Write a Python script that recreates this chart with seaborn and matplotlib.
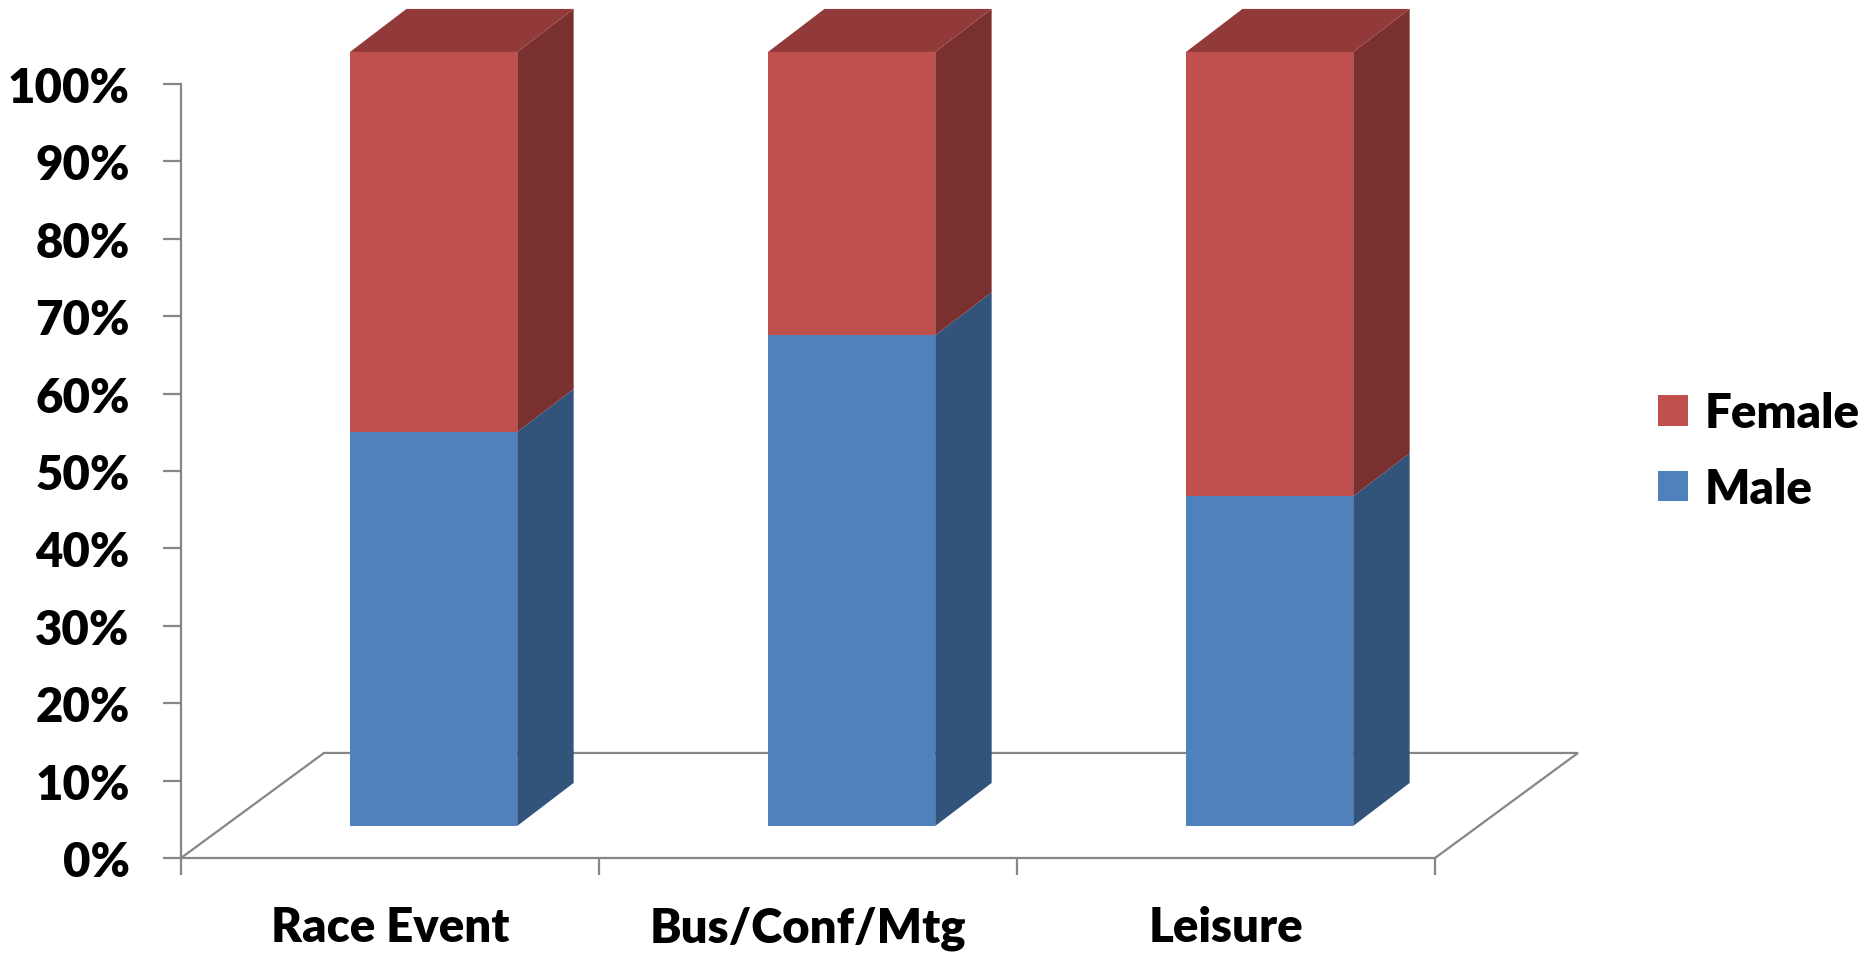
import numpy as np
import pandas as pd
import matplotlib
matplotlib.use("Agg")
import matplotlib.pyplot as plt
import seaborn as sns
from matplotlib.patches import Polygon, Patch

# ---- data -------------------------------------------------------------
categories = ["Race Event", "Bus/Conf/Mtg", "Leisure"]
male = [50.9, 63.4, 42.6]
female = [49.1, 36.6, 57.4]
series_names = ["Female", "Male"]
ytick_values = list(range(0, 101, 10))
ytick_labels = [f"{v}%" for v in ytick_values]

# ---- style ------------------------------------------------------------
BLUE, BLUE_SIDE = "#4F81BD", "#32537A"
RED, RED_SIDE, RED_TOP = "#C0504D", "#7B3030", "#923A3A"
LINE = "#868686"
FS = 34
WEIGHT = 800

# pseudo-3D projection (data units): floor depth vector, where the bar
# fronts sit along that depth, and the depth of each bar block
FLOOR_DX, FLOOR_DY = 0.342, 13.57
FRONT = 0.305
BAR_DX, BAR_DY = 0.135, 5.56

sns.set_theme(style="white")
plt.rcParams["font.family"] = ["Lato", "DejaVu Sans"]
plt.rcParams["font.weight"] = WEIGHT
plt.rcParams["text.color"] = "black"
plt.rcParams["xtick.labelcolor"] = "black"
plt.rcParams["ytick.labelcolor"] = "black"

fig = plt.figure(figsize=(18.68, 9.54), dpi=100)
ax = fig.add_axes([0.0969, 0.09958, 0.67131, 0.81132])

idx = np.arange(len(categories))
front_dx, front_dy = FRONT * FLOOR_DX, FRONT * FLOOR_DY
df = pd.DataFrame({"pos": idx + front_dx, "Male": male, "Female": female})
df["female_base"] = front_dy + df["Male"]

# front faces of the stacked bars
sns.barplot(data=df, x="pos", y="Male", native_scale=True, width=0.4,
            color=BLUE, saturation=1, bottom=front_dy, errorbar=None,
            linewidth=0, ax=ax, zorder=3)
sns.barplot(data=df, x="pos", y="Female", native_scale=True, width=0.4,
            color=RED, saturation=1, bottom=df["female_base"].to_numpy(),
            errorbar=None, linewidth=0, ax=ax, zorder=3)

# side and top faces derived from each bar's geometry
for bars, side_col, top_col in [(ax.containers[0], BLUE_SIDE, None),
                                (ax.containers[1], RED_SIDE, RED_TOP)]:
    for p in bars:
        p.set_clip_on(False)
        x0, y0, w, h = p.get_x(), p.get_y(), p.get_width(), p.get_height()
        side = [(x0 + w, y0), (x0 + w + BAR_DX, y0 + BAR_DY),
                (x0 + w + BAR_DX, y0 + h + BAR_DY), (x0 + w, y0 + h)]
        ax.add_patch(Polygon(side, closed=True, fc=side_col, ec="none",
                             clip_on=False, zorder=2.9))
        if top_col:
            top = [(x0, y0 + h), (x0 + BAR_DX, y0 + h + BAR_DY),
                   (x0 + w + BAR_DX, y0 + h + BAR_DY), (x0 + w, y0 + h)]
            ax.add_patch(Polygon(top, closed=True, fc=top_col, ec="none",
                                 clip_on=False, zorder=2.9))

# floor outline
x_left, x_right = -0.5, len(categories) - 0.5
ax.plot([x_left, x_left + FLOOR_DX, x_right + FLOOR_DX, x_right],
        [0, FLOOR_DY, FLOOR_DY, 0], color=LINE, lw=1.6, clip_on=False,
        zorder=1, solid_joinstyle="miter")

ax.set_xlim(x_left, x_right)
ax.set_ylim(0, 100)
ax.set_xlabel("")
ax.set_ylabel("")
for s in ["top", "right"]:
    ax.spines[s].set_visible(False)
for s in ["left", "bottom"]:
    ax.spines[s].set_color(LINE)
    ax.spines[s].set_linewidth(1.6)

ax.set_xticks(np.arange(len(categories) + 1) - 0.5)
ax.set_xticklabels([])
ax.set_xticks(idx, minor=True)
ax.set_xticklabels(categories, minor=True, fontsize=FS, fontweight=WEIGHT)
ax.tick_params(axis="x", which="major", bottom=True, direction="out",
               length=12, width=1.6, color=LINE)
ax.tick_params(axis="x", which="minor", bottom=True, length=0, pad=34)

ax.set_yticks(ytick_values)
ax.set_yticklabels(ytick_labels, fontsize=FS, fontweight=WEIGHT)
ax.tick_params(axis="y", left=True, direction="out", length=13, width=1.6,
               color=LINE, pad=24)

fig.legend(handles=[Patch(fc=RED, ec="none"), Patch(fc=BLUE, ec="none")],
           labels=series_names, loc="center left",
           bbox_to_anchor=(0.8876, 0.5262), frameon=False,
           prop={"size": FS, "weight": WEIGHT}, handlelength=0.63,
           handleheight=0.63, handletextpad=0.36, labelspacing=0.66,
           borderpad=0, borderaxespad=0)

fig.savefig("out.png", dpi=100)
